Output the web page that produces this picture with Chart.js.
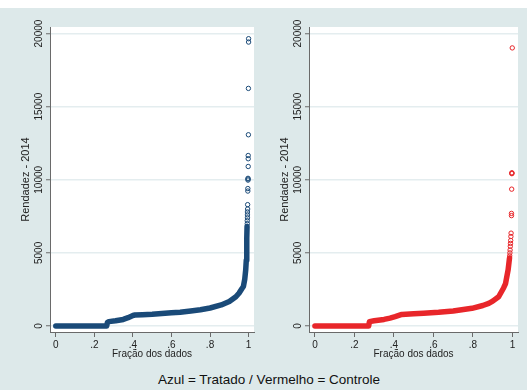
<!DOCTYPE html>
<html>
<head>
<meta charset="utf-8">
<script src="https://cdn.jsdelivr.net/npm/chart.js@4.4.0/dist/chart.umd.min.js"></script>
<style>
  html, body { margin: 0; padding: 0; background: #fff; }
  #page { position: relative; width: 527px; height: 390px; overflow: hidden; }
  #bg { position: absolute; left: 0; top: 8px; width: 527px; height: 382px; background: #dde9ea; }
  canvas { position: absolute; top: 0; }
  #left { left: 0; }
  #right { left: 259px; }
  #note { position: absolute; left: 0; width: 538px; top: 372px; text-align: center;
          font: 13.5px 'Liberation Sans', Arial, sans-serif; line-height: 16px; color: #111; }
</style>
</head>
<body>
<div id="page">
  <div id="bg"></div>
  <canvas id="left" width="259" height="365"></canvas>
  <canvas id="right" width="268" height="365"></canvas>
  <div id="note">Azul = Tratado / Vermelho = Controle</div>
</div>
<script>
// axis ticks
const xTicks = [0, 0.2, 0.4, 0.6, 0.8, 1];
const xTickLabels = ['0', '.2', '.4', '.6', '.8', '1'];
const yTicks = [0, 5000, 10000, 15000, 20000];
const yTickLabels = ['0', '5000', '10000', '15000', '20000'];

// Tratado (azul): quantile curve + sparse top values
const treatedFrac  = [0, 0.264, 0.268, 0.275, 0.31, 0.35, 0.375, 0.40, 0.41, 0.45, 0.5, 0.55, 0.6, 0.645, 0.7, 0.75, 0.8, 0.858, 0.9, 0.934, 0.95, 0.965, 0.973, 0.98, 0.985, 0.988, 0.99, 0.991, 0.992];
const treatedValue = [0, 0, 250, 300, 360, 450, 570, 720, 750, 770, 800, 850, 900, 935, 1020, 1110, 1230, 1440, 1680, 2000, 2240, 2550, 2700, 3200, 3840, 4500, 5200, 6000, 6800];
const treatedOutFrac  = [0.993, 0.993, 0.994, 0.994, 0.994, 0.995, 0.995, 0.996, 0.996, 0.997, 0.997, 0.997, 0.998, 0.998, 0.998, 0.999, 0.999, 1.0, 1.0];
const treatedOutValue = [7000, 7200, 7400, 7600, 7800, 8000, 8300, 9230, 9400, 9980, 10050, 10100, 10910, 11440, 11660, 13080, 16250, 19420, 19650];

// Controle (vermelho)
const controlFrac  = [0, 0.272, 0.276, 0.30, 0.35, 0.38, 0.406, 0.44, 0.5, 0.55, 0.626, 0.7, 0.795, 0.85, 0.88, 0.9, 0.93, 0.955, 0.965, 0.978, 0.985];
const controlValue = [0, 0, 300, 360, 450, 540, 640, 790, 830, 870, 935, 1030, 1210, 1400, 1550, 1700, 2000, 2600, 2900, 3840, 4650];
const controlOutFrac  = [0.986, 0.987, 0.988, 0.989, 0.99, 0.991, 0.992, 0.993, 0.995, 0.995, 0.996, 0.997, 0.997, 0.997, 0.999];
const controlOutValue = [4800, 5000, 5200, 5450, 5650, 5850, 6120, 6350, 7550, 7700, 9360, 10420, 10450, 10480, 19020];

Chart.defaults.font.family = "'Liberation Sans', Arial, sans-serif";

const whitePlot = {
  id: 'whitePlot',
  beforeDraw(chart) {
    const a = chart.chartArea, c = chart.ctx;
    c.save();
    c.fillStyle = '#ffffff';
    c.fillRect(a.left, a.top, a.right - a.left, a.bottom - a.top);
    c.restore();
  }
};

function toPts(xs, ys) {
  return xs.map((x, i) => ({ x: x, y: ys[i] }));
}

function quantileChart(id, color, fx, fy, ox, oy, padRight) {
  return new Chart(document.getElementById(id), {
    type: 'scatter',
    data: {
      datasets: [
        {
          data: toPts(fx, fy),
          showLine: true,
          borderColor: color,
          borderWidth: 5.5,
          borderCapStyle: 'round',
          borderJoinStyle: 'round',
          pointRadius: 0,
          tension: 0
        },
        {
          data: toPts(ox, oy),
          borderColor: color,
          backgroundColor: 'rgba(0,0,0,0)',
          pointRadius: 2.2,
          borderWidth: 1
        }
      ]
    },
    options: {
      responsive: false,
      animation: false,
      devicePixelRatio: 1,
      layout: { padding: { left: 19, top: 27, right: padRight, bottom: 0 } },
      plugins: { legend: { display: false }, tooltip: { enabled: false } },
      scales: {
        x: {
          min: -0.03,
          max: 1.028,
          afterFit: s => { s.height = 33; },
          afterBuildTicks: s => { s.ticks = xTicks.map(v => ({ value: v })); },
          grid: { drawOnChartArea: false, tickLength: 5, tickColor: '#6a6a6a', tickWidth: 1 },
          border: { color: '#6a6a6a' },
          ticks: { padding: 2, color: '#222', font: { size: 10 }, callback: (v, i) => xTickLabels[i] },
          title: { display: true, text: 'Fração dos dados', color: '#222', font: { size: 10 }, padding: { top: 0, bottom: 5 } }
        },
        y: {
          min: -410,
          max: 20450,
          afterFit: s => { s.width = 31; },
          afterBuildTicks: s => { s.ticks = yTicks.map(v => ({ value: v })); },
          grid: { color: '#e4edef', lineWidth: 1.5, tickLength: 4, tickColor: '#6a6a6a', tickWidth: 1 },
          border: { color: '#6a6a6a' },
          ticks: { minRotation: 90, maxRotation: 90, crossAlign: 'center', padding: -7, autoSkip: false,
                   color: '#222', font: { size: 10 }, callback: (v, i) => yTickLabels[i] },
          title: { display: true, text: 'Rendadez - 2014', color: '#222', font: { size: 11 }, padding: { top: 0, bottom: 0 } }
        }
      }
    },
    plugins: [whitePlot]
  });
}

quantileChart('left', '#1a4a78', treatedFrac, treatedValue, treatedOutFrac, treatedOutValue, 1);
quantileChart('right', '#e8262a', controlFrac, controlValue, controlOutFrac, controlOutValue, 9);
</script>
</body>
</html>
